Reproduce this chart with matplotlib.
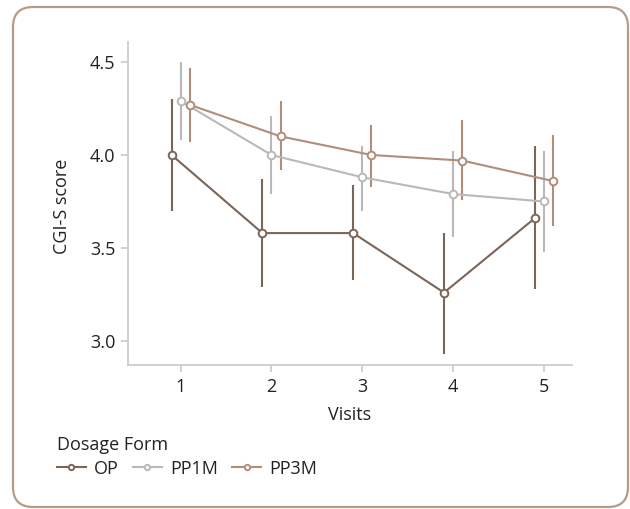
import matplotlib
matplotlib.use('Agg')
import matplotlib.pyplot as plt
from matplotlib.patches import FancyBboxPatch

plt.rcParams['font.family'] = ['Open Sans', 'DejaVu Sans']

visits = [1, 2, 3, 4, 5]
groups = ['OP', 'PP1M', 'PP3M']
offsets = [-0.1, 0.0, 0.1]
colors = ['#7b6556', '#b9b9b9', '#b08e79']

op_mean = [4.00, 3.58, 3.58, 3.26, 3.66]
op_lo = [3.70, 3.29, 3.33, 2.93, 3.28]
op_hi = [4.30, 3.87, 3.84, 3.58, 4.05]

pp1m_mean = [4.29, 4.00, 3.88, 3.79, 3.75]
pp1m_lo = [4.08, 3.79, 3.70, 3.56, 3.48]
pp1m_hi = [4.50, 4.21, 4.05, 4.02, 4.02]

pp3m_mean = [4.27, 4.10, 4.00, 3.97, 3.86]
pp3m_lo = [4.07, 3.92, 3.83, 3.76, 3.62]
pp3m_hi = [4.47, 4.29, 4.16, 4.19, 4.11]

means = [op_mean, pp1m_mean, pp3m_mean]
lows = [op_lo, pp1m_lo, pp3m_lo]
highs = [op_hi, pp1m_hi, pp3m_hi]

FS = 13
TXT = '#222222'

fig = plt.figure(figsize=(6.3, 5.09), dpi=100)

# rounded frame round the whole chart
frame = FancyBboxPatch((0.13, 0.02), 6.15, 5.0,
                       boxstyle='round,pad=0,rounding_size=0.2',
                       transform=fig.dpi_scale_trans,
                       facecolor='white', edgecolor='#b59b88', linewidth=1.6,
                       zorder=-10)
fig.patches.append(frame)

ax = fig.add_axes([0.2032, 0.2823, 0.7048, 0.6357])
ax.patch.set_alpha(0)

for name, off, col, m, lo, hi in zip(groups, offsets, colors, means, lows, highs):
    xs = [v + off for v in visits]
    ax.vlines(xs, lo, hi, color=col, linewidth=1.5, zorder=2)
    ax.plot(xs, m, color=col, linewidth=1.5, marker='o', markersize=5.5,
            markerfacecolor='white', markeredgecolor=col, markeredgewidth=1.4,
            label=name, zorder=3)

ax.set_xlim(0.42, 5.31)
ax.set_ylim(2.869, 4.609)
ax.set_xticks(visits)
ax.set_yticks([3.0, 3.5, 4.0, 4.5])
ax.set_yticklabels(['3.0', '3.5', '4.0', '4.5'])

for s in ['top', 'right']:
    ax.spines[s].set_visible(False)
for s in ['left', 'bottom']:
    ax.spines[s].set_color('#c8c8c8')
    ax.spines[s].set_linewidth(1.2)
ax.tick_params(colors='#c8c8c8', labelcolor=TXT, labelsize=FS,
               length=5, width=1.2, pad=4)

ax.set_xlabel('Visits', fontsize=FS, color=TXT, labelpad=7)
ax.set_ylabel('CGI-S score', fontsize=FS, color=TXT)
ax.yaxis.set_label_coords(-0.128, 0.49)

leg = fig.legend(loc='upper left', bbox_to_anchor=(0.09, 0.143), ncol=3,
                 title='Dosage Form', frameon=False, fontsize=FS,
                 title_fontsize=FS, alignment='left', handlelength=1.6,
                 columnspacing=0.8, handletextpad=0.45, borderaxespad=0,
                 borderpad=0, markerscale=0.7, labelspacing=0.3)
leg.get_title().set_color(TXT)
for t in leg.get_texts():
    t.set_color(TXT)

fig.savefig('out.png', dpi=100)
